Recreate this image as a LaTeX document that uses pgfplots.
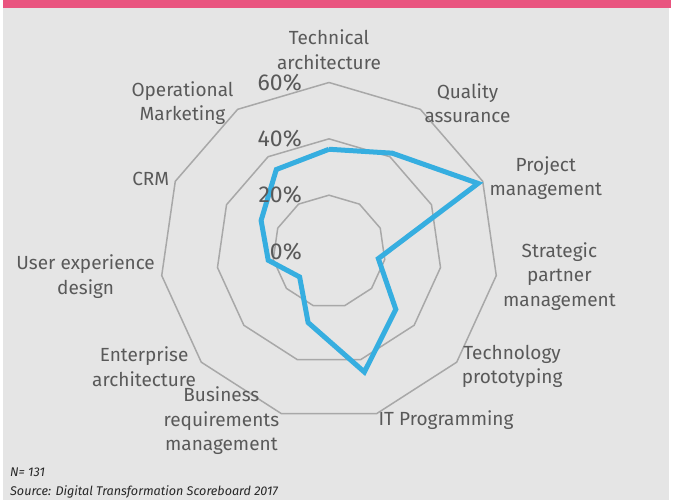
\documentclass[border=0pt]{standalone}
\usepackage{fontspec}
\setmainfont{Fira Sans}
\usepackage{pgfplots}
\pgfplotsset{compat=1.18}
\usepackage{pgfplotstable}
\usepgfplotslibrary{polar}

\definecolor{bg}{HTML}{E5E5E5}
\definecolor{band}{HTML}{E9547F}
\definecolor{ring}{HTML}{A8A8A8}
\definecolor{line}{HTML}{36AEE0}
\definecolor{txt}{HTML}{595959}

\tikzset{
    lbl/.style={inner sep=0pt, align=center, text=txt,
        font=\fontsize{19}{24.5}\selectfont},
    pct/.style={inner sep=0pt, text=txt, anchor=east, xshift=-27pt,
        font=\fontsize{23}{26}\selectfont},
    foot/.style={anchor=base west, inner sep=0pt, text=black!85,
        font=\fontsize{12.6}{14}\selectfont\itshape},
}

% angle (deg, clockwise from top), share (%), grid rings
\pgfplotstableread{
angle     share  g20  g40  g60
90        36.3   20   40   60
57.273    41.5   20   40   60
24.545    58.2   20   40   60
-8.182    17.7   20   40   60
-40.909   31.4   20   40   60
-73.636   44.6   20   40   60
-106.364  26.3   20   40   60
-139.091  13.8   20   40   60
-171.818  21.8   20   40   60
-204.545  26.5   20   40   60
-237.273  34.6   20   40   60
-270      36.3   20   40   60
}\radar

\begin{document}
\begin{tikzpicture}
% background and top band
\fill[white] (-329pt,-248.5pt) rectangle (347pt,251.5pt);
\fill[bg] (-326pt,-248.5pt) rectangle (340pt,243.5pt);
\fill[band] (-326pt,243.5pt) rectangle (342pt,251.5pt);

\begin{polaraxis}[
    at={(0pt,0pt)}, anchor=center,
    scale only axis, width=338pt, height=338pt,
    ymin=0, ymax=60,
    hide axis, clip=false,
]
\addplot[ring, line width=1.5pt, no markers] table[x=angle, y=g20] {\radar};
\addplot[ring, line width=1.5pt, no markers] table[x=angle, y=g40] {\radar};
\addplot[ring, line width=1.5pt, no markers] table[x=angle, y=g60] {\radar};
\addplot[line, line width=5pt, line join=miter, no markers] table[x=angle, y=share] {\radar};

\node[pct] at (axis cs:90,0) {0\%};
\node[pct] at (axis cs:90,20) {20\%};
\node[pct] at (axis cs:90,40) {40\%};
\node[pct] at (axis cs:90,60) {60\%};

\node[lbl, anchor=south] at (axis cs:90,64.6) {Technical\\architecture};
\node[lbl, anchor=west] at (axis cs:57.273,62.6) {Quality\\assurance};
\node[lbl, anchor=west] at (axis cs:24.545,62.6) {Project\\management};
\node[lbl, anchor=west] at (axis cs:-8.182,62.4) {Strategic\\partner\\management};
\node[lbl, anchor=west] at (axis cs:-40.909,62.3) {Technology\\prototyping};
\node[lbl, anchor=west] at (axis cs:-73.636,62.3) {IT Programming};
\node[lbl, anchor=east] at (axis cs:-106.364,62.6) {Business\\requirements\\management};
\node[lbl, anchor=east] at (axis cs:-139.091,62.4) {Enterprise\\architecture};
\node[lbl, anchor=east] at (axis cs:-171.818,62.4) {User experience\\design};
\node[lbl, anchor=east] at (axis cs:-204.545,62.3) {CRM};
\node[lbl, anchor=east] at (axis cs:-237.273,62.6) {Operational\\Marketing};
\end{polaraxis}

\node[foot] at (-319pt,-224.5pt) {N= 131};
\node[foot] at (-319pt,-243.5pt) {Source: Digital Transformation Scoreboard 2017};

\pgfresetboundingbox
\path (-329pt,-248.5pt) rectangle (347pt,251.5pt);
\end{tikzpicture}
\end{document}
